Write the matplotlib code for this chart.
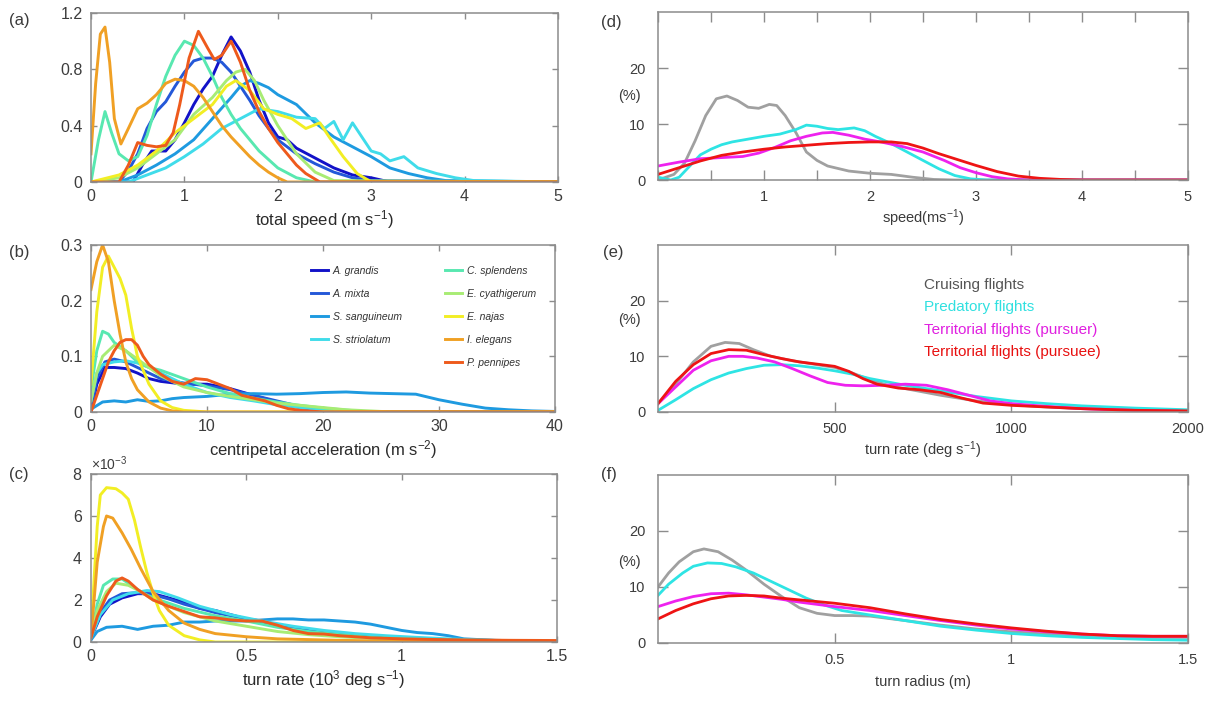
import numpy as np
import matplotlib
matplotlib.use("Agg")
import matplotlib.pyplot as plt

plt.rcParams['font.family'] = ['Liberation Sans', 'DejaVu Sans']
plt.rcParams['mathtext.fontset'] = 'custom'
plt.rcParams['mathtext.rm'] = 'Liberation Sans'
plt.rcParams['mathtext.it'] = 'Liberation Sans:italic'

# ---------------- species (left column) ----------------
species = ["A. grandis", "A. mixta", "S. sanguineum", "S. striolatum",
           "C. splendens", "E. cyathigerum", "E. najas", "I. elegans", "P. pennipes"]
species_colors = ["#1212c8", "#2458d8", "#1e9ae0", "#40dcea", "#58e8b0",
                  "#a8ec74", "#f2ee24", "#f0a024", "#ee5a1c"]

# (a) total speed
a_grandis_x = [0, 0.45, 0.55, 0.65, 0.8, 0.9, 1.0, 1.1, 1.2, 1.3, 1.4, 1.5, 1.6, 1.7, 1.8, 1.9, 2.0, 2.1, 2.2, 2.4, 2.6, 2.8, 3.0, 3.2, 5]
a_grandis_y = [0, 0, 0.12, 0.22, 0.22, 0.3, 0.42, 0.55, 0.66, 0.75, 0.9, 1.03, 0.93, 0.78, 0.58, 0.42, 0.32, 0.3, 0.24, 0.17, 0.1, 0.05, 0.03, 0, 0]
a_mixta_x = [0, 0.3, 0.4, 0.5, 0.6, 0.7, 0.8, 0.9, 1.0, 1.1, 1.2, 1.3, 1.4, 1.5, 1.6, 1.7, 1.8, 1.9, 2.0, 2.2, 2.4, 2.6, 2.8, 3.0, 5]
a_mixta_y = [0, 0, 0.08, 0.2, 0.38, 0.5, 0.57, 0.68, 0.78, 0.86, 0.88, 0.88, 0.85, 0.78, 0.68, 0.58, 0.47, 0.38, 0.3, 0.2, 0.13, 0.07, 0.03, 0.01, 0]
a_sanguineum_x = [0, 0.3, 0.5, 0.7, 0.9, 1.1, 1.3, 1.5, 1.6, 1.7, 1.8, 1.9, 2.0, 2.2, 2.4, 2.6, 2.8, 3.0, 3.2, 3.4, 3.6, 3.8, 5]
a_sanguineum_y = [0, 0, 0.05, 0.12, 0.2, 0.3, 0.45, 0.6, 0.68, 0.72, 0.7, 0.67, 0.62, 0.55, 0.42, 0.32, 0.25, 0.18, 0.1, 0.06, 0.03, 0.01, 0]
a_striolatum_x = [0, 0.4, 0.6, 0.8, 1.0, 1.2, 1.4, 1.6, 1.8, 2.0, 2.2, 2.4, 2.5, 2.6, 2.7, 2.8, 2.9, 3.0, 3.1, 3.2, 3.35, 3.5, 3.7, 3.9, 4.1, 5]
a_striolatum_y = [0, 0, 0.05, 0.1, 0.18, 0.27, 0.38, 0.45, 0.52, 0.5, 0.46, 0.45, 0.38, 0.43, 0.3, 0.42, 0.32, 0.22, 0.2, 0.15, 0.18, 0.1, 0.06, 0.03, 0.01, 0]
a_splendens_x = [0, 0.08, 0.15, 0.22, 0.3, 0.4, 0.5, 0.6, 0.7, 0.8, 0.9, 1.0, 1.1, 1.2, 1.3, 1.4, 1.5, 1.6, 1.7, 1.8, 2.0, 2.2, 2.4, 5]
a_splendens_y = [0, 0.3, 0.5, 0.35, 0.2, 0.15, 0.18, 0.33, 0.55, 0.75, 0.9, 1.0, 0.97, 0.88, 0.75, 0.6, 0.48, 0.38, 0.3, 0.22, 0.1, 0.03, 0, 0]
a_cyathigerum_x = [0, 0.3, 0.5, 0.7, 0.9, 1.1, 1.3, 1.45, 1.55, 1.65, 1.75, 1.85, 2.0, 2.2, 2.4, 2.6, 5]
a_cyathigerum_y = [0, 0.03, 0.1, 0.2, 0.3, 0.48, 0.6, 0.72, 0.78, 0.8, 0.72, 0.58, 0.4, 0.2, 0.07, 0.01, 0]
a_najas_x = [0, 0.3, 0.5, 0.7, 0.9, 1.1, 1.3, 1.45, 1.55, 1.7, 1.85, 2.0, 2.15, 2.3, 2.45, 2.55, 2.7, 2.85, 3.0, 5]
a_najas_y = [0, 0.05, 0.12, 0.22, 0.35, 0.45, 0.55, 0.68, 0.72, 0.65, 0.52, 0.48, 0.45, 0.38, 0.42, 0.32, 0.18, 0.06, 0, 0]
a_elegans_x = [0, 0.05, 0.1, 0.15, 0.2, 0.25, 0.32, 0.4, 0.5, 0.6, 0.7, 0.8, 0.9, 1.0, 1.1, 1.2, 1.3, 1.4, 1.5, 1.6, 1.7, 1.8, 1.9, 2.0, 2.1, 5]
a_elegans_y = [0.2, 0.7, 1.05, 1.1, 0.85, 0.45, 0.27, 0.38, 0.52, 0.56, 0.62, 0.7, 0.73, 0.72, 0.68, 0.6, 0.5, 0.4, 0.32, 0.25, 0.18, 0.12, 0.07, 0.03, 0, 0]
a_pennipes_x = [0, 0.3, 0.4, 0.5, 0.6, 0.7, 0.8, 0.88, 0.95, 1.05, 1.15, 1.25, 1.32, 1.4, 1.5, 1.6, 1.7, 1.8, 1.9, 2.0, 2.1, 2.2, 2.3, 2.45, 5]
a_pennipes_y = [0, 0, 0.12, 0.28, 0.26, 0.25, 0.26, 0.35, 0.55, 0.88, 1.07, 0.95, 0.87, 0.9, 1.0, 0.85, 0.65, 0.5, 0.38, 0.28, 0.2, 0.12, 0.06, 0, 0]

# (b) centripetal acceleration
b_grandis_x = [0, 0.5, 1.2, 2, 3, 4, 5, 6, 8, 10, 12, 14, 16, 18, 20, 22, 40]
b_grandis_y = [0, 0.05, 0.08, 0.08, 0.078, 0.07, 0.06, 0.055, 0.05, 0.05, 0.042, 0.03, 0.018, 0.008, 0.003, 0, 0]
b_mixta_x = [0, 0.5, 1.2, 2, 3, 4, 5, 6, 8, 10, 12, 14, 16, 18, 20, 22, 40]
b_mixta_y = [0, 0.06, 0.09, 0.095, 0.09, 0.08, 0.07, 0.06, 0.052, 0.047, 0.04, 0.03, 0.02, 0.01, 0.004, 0, 0]
b_sanguineum_x = [0, 1, 2, 3, 4, 5, 6, 7, 8, 10, 12, 14, 16, 18, 20, 22, 24, 26, 28, 30, 32, 34, 36, 38, 40]
b_sanguineum_y = [0.005, 0.018, 0.02, 0.018, 0.022, 0.019, 0.02, 0.024, 0.026, 0.028, 0.032, 0.033, 0.032, 0.033, 0.035, 0.036, 0.034, 0.033, 0.032, 0.022, 0.014, 0.007, 0.004, 0.002, 0.001]
b_striolatum_x = [0, 0.5, 1, 2, 3, 4, 5, 6, 8, 10, 12, 14, 16, 18, 22, 40]
b_striolatum_y = [0.02, 0.07, 0.085, 0.09, 0.092, 0.088, 0.08, 0.07, 0.05, 0.035, 0.026, 0.02, 0.013, 0.008, 0, 0]
b_splendens_x = [0, 0.5, 1, 1.5, 2, 3, 4, 5, 6, 8, 10, 12, 14, 16, 18, 20, 24, 40]
b_splendens_y = [0.04, 0.11, 0.145, 0.14, 0.125, 0.11, 0.09, 0.08, 0.075, 0.06, 0.045, 0.033, 0.025, 0.018, 0.012, 0.007, 0, 0]
b_cyathigerum_x = [0, 0.5, 1, 2, 3, 4, 5, 6, 8, 10, 12, 14, 16, 18, 20, 22, 26, 40]
b_cyathigerum_y = [0.02, 0.07, 0.1, 0.12, 0.11, 0.095, 0.08, 0.065, 0.045, 0.035, 0.028, 0.022, 0.016, 0.012, 0.008, 0.004, 0, 0]
b_najas_x = [0, 0.5, 1, 1.5, 2, 2.5, 3, 3.5, 4, 5, 6, 7, 8, 10, 40]
b_najas_y = [0.05, 0.18, 0.26, 0.28, 0.26, 0.24, 0.21, 0.15, 0.1, 0.05, 0.02, 0.008, 0.003, 0, 0]
b_elegans_x = [0, 0.5, 1, 1.5, 2, 2.5, 3, 3.5, 4, 5, 6, 7, 8, 40]
b_elegans_y = [0.22, 0.27, 0.3, 0.27, 0.2, 0.14, 0.09, 0.06, 0.04, 0.018, 0.007, 0.002, 0, 0]
b_pennipes_x = [0, 0.5, 1, 1.5, 2, 2.5, 3, 3.5, 4, 4.5, 5, 6, 7, 8, 9, 10, 11, 12, 13, 14, 15, 16, 17, 18, 20, 40]
b_pennipes_y = [0, 0.03, 0.06, 0.09, 0.11, 0.125, 0.13, 0.13, 0.12, 0.1, 0.085, 0.068, 0.055, 0.05, 0.06, 0.058, 0.05, 0.042, 0.03, 0.025, 0.02, 0.012, 0.006, 0.003, 0, 0]

# (c) turn rate (values in 1e-3)
c_grandis_x = [0, 0.03, 0.06, 0.1, 0.15, 0.2, 0.25, 0.3, 0.35, 0.4, 0.45, 0.5, 0.55, 0.6, 0.7, 0.8, 0.9, 1.0, 1.1, 1.2, 1.35, 1.5]
c_grandis_y = [0.2, 1.2, 1.8, 2.1, 2.3, 2.3, 2.1, 1.9, 1.6, 1.5, 1.3, 1.1, 1.0, 0.8, 0.55, 0.35, 0.25, 0.15, 0.1, 0.05, 0.02, 0]
c_mixta_x = [0, 0.03, 0.06, 0.1, 0.15, 0.2, 0.25, 0.3, 0.4, 0.5, 0.6, 0.7, 0.8, 0.9, 1.0, 1.2, 1.5]
c_mixta_y = [0.3, 1.4, 2.0, 2.3, 2.35, 2.25, 2.05, 1.8, 1.4, 1.1, 0.8, 0.5, 0.35, 0.2, 0.12, 0.05, 0]
c_sanguineum_x = [0, 0.02, 0.05, 0.1, 0.15, 0.2, 0.25, 0.3, 0.35, 0.4, 0.45, 0.5, 0.55, 0.6, 0.65, 0.7, 0.75, 0.8, 0.85, 0.9, 0.95, 1.0, 1.05, 1.1, 1.15, 1.2, 1.3, 1.4, 1.5]
c_sanguineum_y = [0.1, 0.5, 0.7, 0.75, 0.6, 0.75, 0.8, 0.95, 0.95, 1.0, 1.0, 1.0, 1.05, 1.1, 1.1, 1.05, 1.05, 1.0, 0.95, 0.85, 0.7, 0.55, 0.45, 0.4, 0.3, 0.15, 0.08, 0.05, 0.03]
c_striolatum_x = [0, 0.03, 0.07, 0.12, 0.18, 0.22, 0.28, 0.35, 0.45, 0.55, 0.65, 0.75, 0.85, 0.95, 1.05, 1.15, 1.25, 1.35, 1.5]
c_striolatum_y = [0.2, 1.3, 2.0, 2.3, 2.45, 2.4, 2.1, 1.7, 1.3, 1.0, 0.75, 0.55, 0.4, 0.3, 0.22, 0.15, 0.1, 0.05, 0.02]
c_splendens_x = [0, 0.02, 0.04, 0.07, 0.1, 0.13, 0.17, 0.22, 0.3, 0.4, 0.5, 0.6, 0.7, 0.8, 0.9, 1.0, 1.2, 1.5]
c_splendens_y = [0.3, 1.8, 2.7, 3.0, 3.0, 2.7, 2.3, 2.0, 1.6, 1.25, 1.0, 0.7, 0.5, 0.35, 0.22, 0.15, 0.05, 0]
c_cyathigerum_x = [0, 0.02, 0.05, 0.08, 0.12, 0.16, 0.2, 0.25, 0.3, 0.4, 0.5, 0.6, 0.7, 0.8, 1.0, 1.2, 1.5]
c_cyathigerum_y = [0.3, 1.5, 2.4, 2.8, 2.7, 2.4, 2.0, 1.7, 1.4, 1.0, 0.75, 0.5, 0.35, 0.25, 0.1, 0.04, 0]
c_najas_x = [0, 0.01, 0.02, 0.03, 0.05, 0.08, 0.1, 0.12, 0.14, 0.16, 0.18, 0.2, 0.22, 0.25, 0.3, 0.35, 0.4, 1.5]
c_najas_y = [0.3, 3.0, 5.5, 7.0, 7.35, 7.3, 7.1, 6.8, 5.8, 4.5, 3.3, 2.3, 1.5, 0.8, 0.3, 0.1, 0, 0]
c_elegans_x = [0, 0.01, 0.02, 0.04, 0.05, 0.07, 0.1, 0.13, 0.16, 0.2, 0.25, 0.3, 0.35, 0.4, 0.5, 0.6, 0.8, 1.0, 1.5]
c_elegans_y = [0.3, 2.0, 3.8, 5.5, 6.0, 5.9, 5.2, 4.4, 3.5, 2.4, 1.5, 0.9, 0.6, 0.4, 0.25, 0.15, 0.08, 0.03, 0]
c_pennipes_x = [0, 0.02, 0.05, 0.08, 0.1, 0.12, 0.15, 0.2, 0.25, 0.3, 0.35, 0.4, 0.45, 0.5, 0.55, 0.6, 0.65, 0.7, 0.75, 0.8, 0.9, 1.0, 1.1, 1.2, 1.35, 1.5]
c_pennipes_y = [0.2, 1.2, 2.2, 2.9, 3.05, 2.9, 2.5, 2.0, 1.7, 1.45, 1.2, 1.15, 1.05, 1.0, 1.0, 0.8, 0.55, 0.4, 0.38, 0.3, 0.2, 0.15, 0.12, 0.1, 0.08, 0.07]

# ---------------- flight types (right column) ----------------
flights = ["Cruising flights", "Predatory flights",
           "Territorial flights (pursuer)", "Territorial flights (pursuee)"]
flight_colors = ["#a0a0a0", "#2ee4e4", "#ee22ee", "#ee1414"]
flight_text_colors = ["#555555", "#30e0e0", "#e020e0", "#e81010"]

d_cruise_x = [0, 0.15, 0.25, 0.35, 0.45, 0.55, 0.65, 0.75, 0.85, 0.95, 1.05, 1.12, 1.2, 1.3, 1.4, 1.5, 1.6, 1.8, 2.0, 2.2, 2.4, 2.6, 2.8, 5]
d_cruise_y = [0, 1, 3, 7, 11.5, 14.5, 15, 14.2, 13, 12.8, 13.5, 13.3, 11.5, 8.5, 5, 3.5, 2.5, 1.6, 1.2, 1.0, 0.5, 0.1, 0, 0]
d_pred_x = [0, 0.12, 0.2, 0.3, 0.4, 0.5, 0.6, 0.7, 0.85, 1.0, 1.15, 1.3, 1.4, 1.5, 1.6, 1.7, 1.85, 1.95, 2.05, 2.2, 2.35, 2.5, 2.65, 2.8, 2.95, 3.1, 5]
d_pred_y = [0.5, 0, 0.5, 2.5, 4.5, 5.5, 6.3, 6.8, 7.3, 7.8, 8.2, 9.0, 9.8, 9.6, 9.2, 9.0, 9.3, 8.8, 7.8, 6.5, 5.0, 3.5, 2.0, 0.8, 0.2, 0, 0]
d_pursuer_x = [0, 0.2, 0.4, 0.6, 0.8, 0.95, 1.1, 1.25, 1.4, 1.55, 1.65, 1.8, 1.95, 2.1, 2.3, 2.5, 2.7, 2.85, 3.0, 3.15, 3.3, 3.5, 5]
d_pursuer_y = [2.5, 3.2, 3.8, 4.0, 4.2, 4.8, 5.8, 7.0, 7.8, 8.4, 8.5, 8.0, 7.3, 6.8, 6.0, 5.0, 3.5, 2.2, 1.3, 0.6, 0.2, 0, 0]
d_pursuee_x = [0, 0.2, 0.4, 0.6, 0.8, 1.0, 1.2, 1.4, 1.6, 1.8, 2.0, 2.2, 2.35, 2.5, 2.65, 2.8, 3.0, 3.2, 3.4, 3.6, 3.8, 4.0, 5]
d_pursuee_y = [1.0, 2.2, 3.4, 4.4, 5.0, 5.5, 5.9, 6.2, 6.5, 6.7, 6.8, 6.8, 6.5, 5.7, 4.7, 3.8, 2.6, 1.5, 0.7, 0.3, 0.1, 0, 0]

e_cruise_x = [0, 50, 100, 150, 190, 230, 270, 320, 380, 440, 500, 550, 600, 650, 700, 750, 800, 900, 1000, 1100, 1200, 1350, 1500]
e_cruise_y = [1.5, 5, 9, 11.8, 12.5, 12.3, 11.2, 10, 9.2, 8.6, 8.0, 7.0, 5.8, 4.8, 4.2, 3.6, 3.0, 2.0, 1.3, 0.9, 0.6, 0.3, 0.1]
e_pred_x = [0, 50, 100, 150, 200, 250, 300, 350, 400, 450, 500, 550, 600, 700, 800, 900, 1000, 1100, 1200, 1350, 1500]
e_pred_y = [0.3, 2.2, 4.2, 5.8, 7.0, 7.8, 8.4, 8.5, 8.3, 7.9, 7.4, 6.8, 6.0, 4.8, 3.8, 2.8, 2.0, 1.5, 1.1, 0.7, 0.4]
e_pursuer_x = [0, 50, 100, 150, 200, 240, 280, 330, 380, 430, 480, 530, 580, 640, 700, 760, 820, 880, 940, 1000, 1100, 1200, 1350, 1500]
e_pursuer_y = [1.5, 4.5, 7.5, 9.2, 10, 10, 9.7, 9.0, 7.8, 6.5, 5.3, 4.8, 4.7, 4.8, 5.0, 4.8, 4.0, 3.0, 2.0, 1.5, 1.0, 0.6, 0.3, 0.1]
e_pursuee_x = [0, 50, 100, 150, 200, 250, 300, 350, 400, 450, 500, 540, 580, 620, 680, 740, 800, 860, 920, 1000, 1100, 1200, 1350, 1500]
e_pursuee_y = [1.5, 5.5, 8.5, 10.5, 11.2, 11.1, 10.3, 9.6, 9.0, 8.6, 8.2, 7.3, 6.0, 5.0, 4.3, 4.0, 3.5, 2.5, 1.6, 1.2, 0.9, 0.6, 0.3, 0.2]

f_cruise_x = [0, 0.03, 0.06, 0.1, 0.13, 0.17, 0.21, 0.25, 0.3, 0.35, 0.4, 0.45, 0.5, 0.55, 0.6, 0.7, 0.8, 0.9, 1.0, 1.1, 1.2, 1.3, 1.4, 1.5]
f_cruise_y = [10, 12.5, 14.5, 16.3, 16.8, 16.3, 14.8, 13.0, 10.5, 8.3, 6.3, 5.3, 4.9, 4.9, 4.8, 4.0, 3.2, 2.5, 2.0, 1.6, 1.3, 1.1, 1.0, 1.0]
f_pred_x = [0, 0.03, 0.07, 0.1, 0.14, 0.18, 0.22, 0.27, 0.32, 0.37, 0.42, 0.47, 0.52, 0.6, 0.7, 0.8, 0.9, 1.0, 1.1, 1.2, 1.3, 1.4, 1.5]
f_pred_y = [8.5, 10.5, 12.5, 13.7, 14.3, 14.2, 13.6, 12.5, 11.0, 9.5, 8.0, 6.8, 5.8, 5.0, 4.0, 3.0, 2.3, 1.7, 1.3, 1.0, 0.8, 0.6, 0.5]
f_pursuer_x = [0, 0.05, 0.1, 0.15, 0.2, 0.25, 0.3, 0.35, 0.4, 0.5, 0.6, 0.7, 0.8, 0.9, 1.0, 1.1, 1.2, 1.3, 1.4, 1.5]
f_pursuer_y = [6.5, 7.5, 8.3, 8.8, 8.9, 8.6, 8.2, 7.8, 7.3, 6.5, 5.8, 4.9, 4.0, 3.2, 2.5, 2.0, 1.6, 1.3, 1.2, 1.2]
f_pursuee_x = [0, 0.05, 0.1, 0.15, 0.2, 0.25, 0.3, 0.35, 0.4, 0.5, 0.6, 0.7, 0.8, 0.9, 1.0, 1.1, 1.2, 1.3, 1.4, 1.5]
f_pursuee_y = [4.3, 5.8, 7.0, 7.9, 8.4, 8.5, 8.4, 8.0, 7.7, 7.1, 6.3, 5.2, 4.2, 3.4, 2.7, 2.1, 1.6, 1.3, 1.2, 1.2]

# tick labels
a_xticks = [0, 1, 2, 3, 4, 5]
a_yticks = [0, 0.4, 0.8, 1.2]
b_xticks = [0, 10, 20, 30, 40]
b_yticks = [0, 0.1, 0.2, 0.3]
c_xticks = [0, 0.5, 1, 1.5]
c_yticks = [0, 2e-3, 4e-3, 6e-3, 8e-3]
d_xticks = [0, 0.5, 1, 1.5, 2, 2.5, 3, 3.5, 4, 4.5, 5]
d_xticklabels = ["", "", "1", "", "2", "", "3", "", "4", "", "5"]
e_xticks = [500, 1000, 1500]
e_xticklabels = ["500", "1000", "2000"]
f_xticks = [0.5, 1, 1.5]
f_xticklabels = ["0.5", "1", "1.5"]
pct_yticks = [0, 10, 20]

# ---------------- figure ----------------
W, H = 1209, 702
fig = plt.figure(figsize=(W / 100, H / 100), dpi=100)

def box(l, t, r, b):
    return [l / W, 1 - b / H, (r - l) / W, (b - t) / H]

axa = fig.add_axes(box(91, 13, 558, 182))
axb = fig.add_axes(box(91, 245, 555, 412))
axc = fig.add_axes(box(91, 474, 557, 642))
axd = fig.add_axes(box(658, 12, 1188, 180))
axe = fig.add_axes(box(658, 245, 1188, 412))
axf = fig.add_axes(box(658, 475, 1188, 643))

spine_col = "#8c8c8c"
tick_col = "#3c3c3c"

def style(ax, right=False):
    for s in ax.spines.values():
        s.set_color(spine_col)
        s.set_linewidth(1.1)
    ax.tick_params(direction="in", top=True, right=True, colors=spine_col,
                   labelcolor=tick_col, length=7 if right else 4, width=1.0,
                   labelsize=10.5 if right else 11.5)
    ax.tick_params(axis="y", pad=9 if right else 6)
    ax.tick_params(axis="x", pad=7 if right else 5)

# left column
a_data = [(a_grandis_x, a_grandis_y), (a_mixta_x, a_mixta_y), (a_sanguineum_x, a_sanguineum_y),
          (a_striolatum_x, a_striolatum_y), (a_splendens_x, a_splendens_y),
          (a_cyathigerum_x, a_cyathigerum_y), (a_najas_x, a_najas_y),
          (a_elegans_x, a_elegans_y), (a_pennipes_x, a_pennipes_y)]
b_data = [(b_grandis_x, b_grandis_y), (b_mixta_x, b_mixta_y), (b_sanguineum_x, b_sanguineum_y),
          (b_striolatum_x, b_striolatum_y), (b_splendens_x, b_splendens_y),
          (b_cyathigerum_x, b_cyathigerum_y), (b_najas_x, b_najas_y),
          (b_elegans_x, b_elegans_y), (b_pennipes_x, b_pennipes_y)]
c_data = [(c_grandis_x, c_grandis_y), (c_mixta_x, c_mixta_y), (c_sanguineum_x, c_sanguineum_y),
          (c_striolatum_x, c_striolatum_y), (c_splendens_x, c_splendens_y),
          (c_cyathigerum_x, c_cyathigerum_y), (c_najas_x, c_najas_y),
          (c_elegans_x, c_elegans_y), (c_pennipes_x, c_pennipes_y)]

lw_left = 2.1
handles = []
for (x, y), col, name in zip(a_data, species_colors, species):
    axa.plot(x, y, color=col, lw=lw_left, solid_joinstyle="round")
for (x, y), col, name in zip(b_data, species_colors, species):
    h, = axb.plot(x, y, color=col, lw=lw_left, solid_joinstyle="round", label=name)
    handles.append(h)
for (x, y), col in zip(c_data, species_colors):
    axc.plot(x, np.array(y) * 1e-3, color=col, lw=lw_left, solid_joinstyle="round")

axa.set_xlim(0, 5); axa.set_ylim(0, 1.2)
axa.set_xticks(a_xticks); axa.set_yticks(a_yticks)
axa.set_yticklabels(["0", "0.4", "0.8", "1.2"])
axb.set_xlim(0, 40); axb.set_ylim(0, 0.3)
axb.set_xticks(b_xticks); axb.set_yticks(b_yticks)
axb.set_yticklabels(["0", "0.1", "0.2", "0.3"])
axc.set_xlim(0, 1.5); axc.set_ylim(0, 8e-3)
axc.set_xticks(c_xticks); axc.set_yticks(c_yticks)
axc.set_xticklabels(["0", "0.5", "1", "1.5"])
axc.ticklabel_format(axis="y", style="sci", scilimits=(-3, -3), useMathText=True)

for ax in (axa, axb, axc):
    style(ax)
axc.yaxis.get_offset_text().set_fontsize(10)
axc.yaxis.get_offset_text().set_color(tick_col)

axa.set_xlabel("total speed (m s$^{-1}$)", fontsize=12, color="#2a2a2a", labelpad=3)
axb.set_xlabel("centripetal acceleration (m s$^{-2}$)", fontsize=12, color="#2a2a2a", labelpad=3)
axc.set_xlabel("turn rate (10$^{3}$ deg s$^{-1}$)", fontsize=12, color="#2a2a2a", labelpad=3)

leg_kw = dict(frameon=False, handlelength=1.6, handletextpad=0.5,
              prop={"style": "italic", "size": 7.5}, labelspacing=1.25,
              borderaxespad=0, labelcolor="#333333")
leg1 = axb.legend(handles[:4], species[:4], loc="upper left",
                  bbox_to_anchor=(0.465, 0.90), **leg_kw)
axb.add_artist(leg1)
axb.legend(handles[4:], species[4:], loc="upper left",
           bbox_to_anchor=(0.755, 0.90), **leg_kw)

# right column
d_data = [(d_cruise_x, d_cruise_y), (d_pred_x, d_pred_y), (d_pursuer_x, d_pursuer_y), (d_pursuee_x, d_pursuee_y)]
e_data = [(e_cruise_x, e_cruise_y), (e_pred_x, e_pred_y), (e_pursuer_x, e_pursuer_y), (e_pursuee_x, e_pursuee_y)]
f_data = [(f_cruise_x, f_cruise_y), (f_pred_x, f_pred_y), (f_pursuer_x, f_pursuer_y), (f_pursuee_x, f_pursuee_y)]

lw_right = 2.0
ehandles = []
for ax, data in ((axd, d_data), (axe, e_data), (axf, f_data)):
    for (x, y), col, name in zip(data, flight_colors, flights):
        h, = ax.plot(x, y, color=col, lw=lw_right, solid_joinstyle="round", label=name)
        if ax is axe:
            ehandles.append(h)
    ax.set_ylim(0, 30)
    ax.set_yticks(pct_yticks)
    style(ax, right=True)

axd.set_xlim(0, 5)
axd.set_xticks(d_xticks); axd.set_xticklabels(d_xticklabels)
axe.set_xlim(0, 1500)
axe.set_xticks(e_xticks); axe.set_xticklabels(e_xticklabels)
axf.set_xlim(0, 1.5)
axf.set_xticks(f_xticks); axf.set_xticklabels(f_xticklabels)

axd.set_xlabel("speed(ms$^{-1}$)", fontsize=10.5, color="#3a3a3a", labelpad=3)
axe.set_xlabel("turn rate (deg s$^{-1}$)", fontsize=10.5, color="#3a3a3a", labelpad=3)
axf.set_xlabel("turn radius (m)", fontsize=10.5, color="#3a3a3a", labelpad=6)

for ax, ypos in ((axd, 0.50), (axe, 0.55), (axf, 0.48)):
    ax.set_ylabel("(%)", rotation=0, ha="right", va="center", fontsize=10.5, color="#3a3a3a")
    ax.yaxis.set_label_coords(-0.033, ypos)

axe.legend(ehandles, flights, loc="upper left", bbox_to_anchor=(0.49, 0.84),
           frameon=False, handlelength=0, handletextpad=0, borderaxespad=0,
           labelcolor=flight_text_colors, fontsize=11, labelspacing=0.55)

# panel letters
for lab, x, y in (("(a)", 9, 20), ("(b)", 9, 252), ("(c)", 9, 474),
                  ("(d)", 601, 22), ("(e)", 603, 252), ("(f)", 601, 474)):
    fig.text(x / W, 1 - y / H, lab, fontsize=12, color="#3a3a3a", va="center", ha="left")

fig.savefig("out.png", dpi=100)
